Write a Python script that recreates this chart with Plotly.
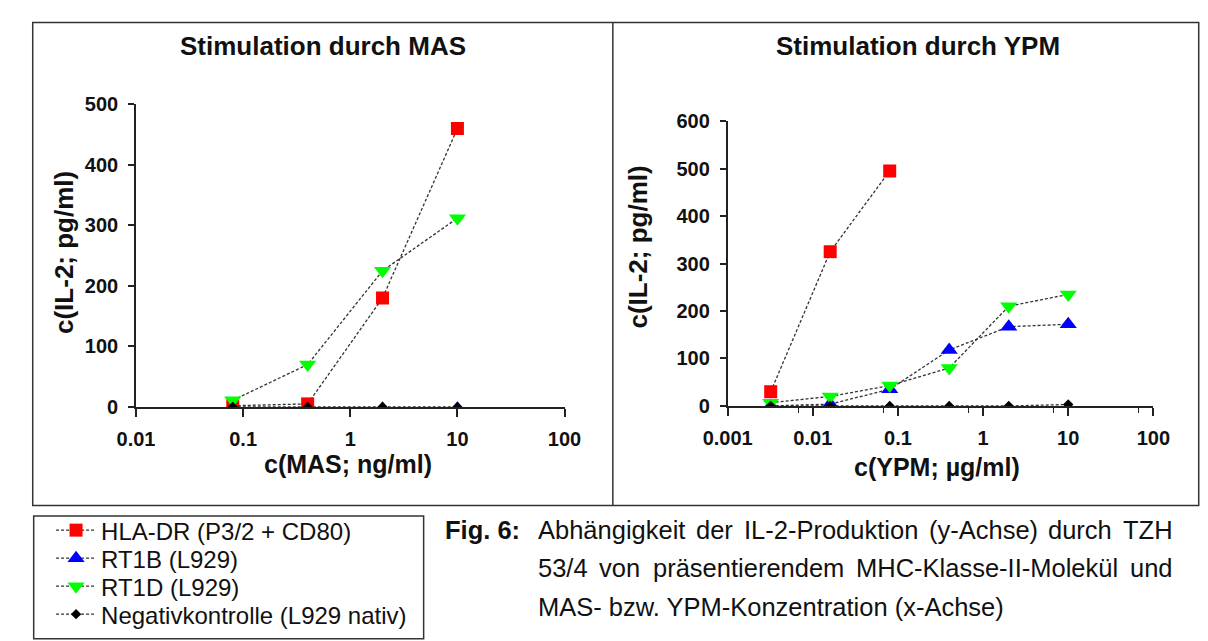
import plotly.graph_objects as go

W, H = 1208, 641

# ---- data -----------------------------------------------------------------
series_names = ["HLA-DR (P3/2 + CD80)", "RT1B (L929)", "RT1D (L929)",
                "Negativkontrolle (L929 nativ)"]

# Stimulation with MAS (ng/ml)
mas_conc = [0.08, 0.4, 2, 10]
mas_hla_dr = [2, 5, 180, 460]
mas_rt1b = [-4, -4, -3, -3]
mas_rt1d = [11, 70, 225, 312]
mas_neg = [0, 0, 0, 0]

# Stimulation with YPM (µg/ml)
ypm_conc = [0.0032, 0.016, 0.08, 0.4, 2, 10]
ypm_hla_dr = [30, 325, 495]
ypm_rt1b = [0, 4, 35, 118, 167, 172]
ypm_rt1d = [7, 20, 43, 80, 210, 235]
ypm_neg = [0, 0, 0, 0, 0, 3]

mas_xticks = [0.01, 0.1, 1, 10, 100]
mas_xlabels = ["0.01", "0.1", "1", "10", "100"]
ypm_xticks = [0.001, 0.01, 0.1, 1, 10, 100]
ypm_xlabels = ["0.001", "0.01", "0.1", "1", "10", "100"]
ypm_minor = [0.0067, 0.067, 0.67, 6.7, 67]
mas_yticks = [0, 100, 200, 300, 400, 500]
ypm_yticks = [0, 100, 200, 300, 400, 500, 600]

# ---- styling --------------------------------------------------------------
FONT = "Liberation Sans, Arial, Helvetica, sans-serif"
colors = ["#ff0000", "#0000ff", "#00ff00", "#000000"]
symbols = ["square", "triangle-up", "triangle-down", "diamond"]
sizes = [13, 15, 15, 8]
LINE = dict(color="#333333", width=1.3, dash="3px,2px")


def fx(x):
    return x / W


def fy(y):
    return 1 - y / H


fig = go.Figure()

mas_sets = [mas_hla_dr, mas_rt1b, mas_rt1d, mas_neg]
ypm_sets = [ypm_hla_dr, ypm_rt1b, ypm_rt1d, ypm_neg]
legend_ids = ["legend", "legend2", "legend3", "legend4"]

for i, name in enumerate(series_names):
    fig.add_trace(go.Scatter(
        x=mas_conc[:len(mas_sets[i])], y=mas_sets[i], name=name,
        mode="lines+markers", line=LINE,
        marker=dict(symbol=symbols[i], size=sizes[i], color=colors[i],
                    line=dict(width=0)),
        xaxis="x", yaxis="y", legend=legend_ids[i],
    ))
for i, name in enumerate(series_names):
    fig.add_trace(go.Scatter(
        x=ypm_conc[:len(ypm_sets[i])], y=ypm_sets[i], name=name,
        mode="lines+markers", line=LINE,
        marker=dict(symbol=symbols[i], size=sizes[i], color=colors[i],
                    line=dict(width=0)),
        xaxis="x2", yaxis="y2", showlegend=False,
    ))

axis_common = dict(
    showline=True, linecolor="#222222", linewidth=1.6,
    ticks="outside", tickcolor="#222222", tickwidth=1.5,
    showgrid=False, zeroline=False,
    tickfont=dict(family=FONT, size=20, color="#111111", weight="bold"),
)

fig.update_layout(
    width=W, height=H,
    margin=dict(l=0, r=0, t=0, b=0),
    paper_bgcolor="white", plot_bgcolor="rgba(0,0,0,0)",
    font=dict(family=FONT, color="#111111"),
    xaxis=dict(type="log", range=[-2, 2], domain=[fx(115), fx(559)],
               anchor="y", tickvals=mas_xticks, ticktext=mas_xlabels,
               ticklen=8, ticklabelstandoff=5, **axis_common),
    yaxis=dict(range=[0, 500], domain=[fy(410), fy(96.7)], anchor="x",
               tickvals=mas_yticks, ticklen=6, ticklabelstandoff=6,
               **axis_common),
    xaxis2=dict(type="log", range=[-3, 2], domain=[fx(728), fx(1169)],
                anchor="y2", tickvals=ypm_xticks, ticktext=ypm_xlabels,
                ticklen=8, ticklabelstandoff=5,
                minor=dict(tickvals=ypm_minor, ticks="outside", ticklen=5,
                           tickcolor="#222222", tickwidth=1.3),
                **axis_common),
    yaxis2=dict(range=[0, 600], domain=[fy(409), fy(114)], anchor="x2",
                tickvals=ypm_yticks, ticklen=6, ticklabelstandoff=6,
                **axis_common),
)

# one legend per series so the rows sit at a fixed pitch
row_y = [538, 567, 596, 625]
for lid, ry in zip(legend_ids, row_y):
    fig.update_layout({lid: dict(
        x=fx(27), xanchor="left", y=fy(ry), yanchor="middle",
        bgcolor="rgba(0,0,0,0)", borderwidth=0, itemwidth=40,
        font=dict(family=FONT, size=24, color="#111111"),
    )})

# frames
box = dict(color="#333333", width=1.5)
fig.add_shape(type="rect", xref="paper", yref="paper",
              x0=fx(8), x1=fx(1216), y0=fy(512), y1=fy(12), line=box)
fig.add_shape(type="line", xref="paper", yref="paper",
              x0=fx(609), x1=fx(609), y0=fy(512), y1=fy(12), line=box)
fig.add_shape(type="rect", xref="paper", yref="paper",
              x0=fx(9), x1=fx(413), y0=fy(650), y1=fy(523), line=box)


def label(text, x, y, size, bold=True, xanchor="center", yanchor="middle",
          angle=0):
    fig.add_annotation(
        text=text, xref="paper", yref="paper", x=fx(x), y=fy(y),
        xanchor=xanchor, yanchor=yanchor, showarrow=False, textangle=angle,
        borderpad=0, borderwidth=0,
        font=dict(family=FONT, size=size, color="#111111",
                  weight="bold" if bold else "normal"),
    )


label("Stimulation durch MAS", 309, 36, 26)
label("Stimulation durch YPM", 925, 36, 26)
label("c(IL-2; pg/ml)", 41, 250, 26, angle=-90)
label("c(IL-2; pg/ml)", 635, 244, 26, angle=-90)
label("c(MAS; ng/ml)", 335, 469, 25)
label("c(YPM; µg/ml)", 945, 472, 25)

# ---- caption: justified lines, words placed by their centres --------------
AW = {" ": 278, "(": 333, ")": 333, "-": 333, ".": 278, "/": 278, ":": 278,
      "+": 584, "ä": 556, "ü": 556,
      "A": 667, "C": 722, "D": 722, "H": 722, "I": 278, "K": 667, "L": 556,
      "M": 833, "P": 667, "R": 722, "S": 667, "T": 611, "Y": 667, "Z": 611,
      "a": 556, "b": 556, "c": 500, "d": 556, "e": 556, "g": 556, "h": 556,
      "i": 222, "k": 500, "l": 222, "m": 833, "n": 556, "o": 556, "p": 556,
      "r": 333, "s": 500, "t": 278, "u": 556, "v": 500, "w": 722, "x": 500,
      "y": 500, "z": 500}
WIDTH_FACTOR = 1.035


def text_width(s, size):
    return sum(AW.get(c, 556) for c in s) * size / 1000 * WIDTH_FACTOR


CAP = 25.5
cap_left, cap_right = 531, 1189
caption_lines = [
    "Abhängigkeit der IL-2-Produktion (y-Achse) durch TZH",
    "53/4 von präsentierendem MHC-Klasse-II-Molekül und",
]
caption_last = "MAS- bzw. YPM-Konzentration (x-Achse)"
caption_y = [537, 577, 617]

label("Fig. 6:", 435, caption_y[0], CAP, bold=True, xanchor="left")
for line, cy in zip(caption_lines, caption_y):
    words = line.split(" ")
    widths = [text_width(w, CAP) for w in words]
    gap = (cap_right - cap_left - sum(widths)) / (len(words) - 1)
    xpos = cap_left
    for k, (w, ww) in enumerate(zip(words, widths)):
        if k == 0:
            label(w, cap_left, cy, CAP, bold=False, xanchor="left")
        elif k == len(words) - 1:
            label(w, cap_right, cy, CAP, bold=False, xanchor="right")
        else:
            label(w, xpos + ww / 2, cy, CAP, bold=False, xanchor="center")
        xpos += ww + gap
label(caption_last, cap_left, caption_y[2], CAP, bold=False, xanchor="left")

fig.write_html("out.html")
